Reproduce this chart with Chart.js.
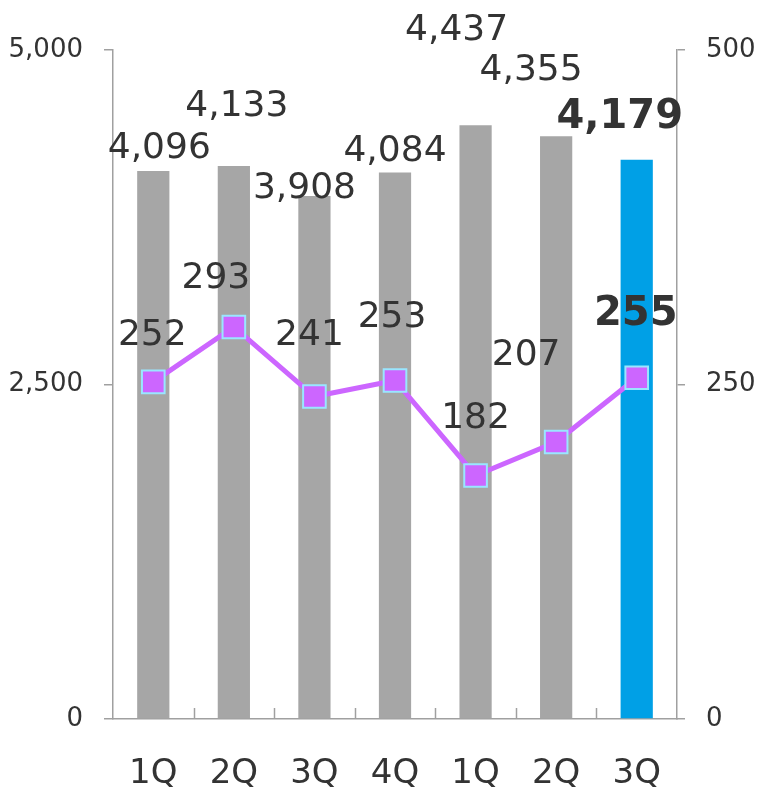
<!DOCTYPE html>
<html>
<head>
<meta charset="utf-8">
<script src="https://cdn.jsdelivr.net/npm/chart.js@4"></script>
<style>
  body { margin: 0; background: #fff; }
  #wrap { width: 758px; height: 792px; }
</style>
</head>
<body>
<div id="wrap"><canvas id="quarterChart" width="758" height="792"></canvas></div>
<script>
// data
const quarters = ['1Q', '2Q', '3Q', '4Q', '1Q', '2Q', '3Q'];
const barValues = [4096, 4133, 3908, 4084, 4437, 4355, 4179];
const lineValues = [252, 293, 241, 253, 182, 207, 255];
const leftTicks = [0, 2500, 5000];
const rightTicks = [0, 250, 500];

// label offsets (dx, dy above the mark), last one bold
const barLabelDx = [6, 3, -10, 0, -19, -25, -17];
const barLabelDy = [22, 59, 7, 21, 95, 66, 42];
const lineLabelDx = [-1, -18, -5, -3, 0, -30, -1];
const lineLabelDy = [46, 48, 61, 63, 57, 86, 63];

const textColor = '#333333';
const axisColor = '#a0a0a0';
const fontFamily = '"DejaVu Sans", Verdana, sans-serif';

const barColors = barValues.map((v, i) => i === barValues.length - 1 ? '#00a0e6' : '#a6a6a6');

function fmt(n) {
    return n.toLocaleString('en-US');
}

// value labels on bars and points
const valueLabels = {
    id: 'valueLabels',
    afterDraw(chart) {
        const ctx = chart.ctx;
        ctx.save();
        ctx.textAlign = 'center';
        ctx.textBaseline = 'middle';
        ctx.fillStyle = textColor;
        const last = barValues.length - 1;

        chart.getDatasetMeta(1).data.forEach((bar, i) => {
            ctx.font = (i === last ? 'bold 40px ' : '36px ') + fontFamily;
            ctx.fillText(fmt(barValues[i]), bar.x + barLabelDx[i], bar.y - barLabelDy[i]);
        });
        chart.getDatasetMeta(0).data.forEach((pt, i) => {
            ctx.font = (i === last ? 'bold 40px ' : '36px ') + fontFamily;
            ctx.fillText(fmt(lineValues[i]), pt.x + lineLabelDx[i], pt.y - lineLabelDy[i]);
        });
        ctx.restore();
    }
};

// small inward ticks between categories on the x axis
const innerTicks = {
    id: 'innerTicks',
    afterDatasetsDraw(chart) {
        const x = chart.scales.x;
        const ctx = chart.ctx;
        const n = quarters.length;
        const step = x.width / n;
        ctx.save();
        ctx.strokeStyle = axisColor;
        ctx.lineWidth = 1.5;
        for (let i = 1; i < n; i++) {
            const px = Math.round(x.left + step * i) + 0.5;
            ctx.beginPath();
            ctx.moveTo(px, x.top);
            ctx.lineTo(px, x.top - 11);
            ctx.stroke();
        }
        ctx.restore();
    }
};

const ctx = document.getElementById('quarterChart').getContext('2d');
const quarterChart = new Chart(ctx, {
    data: {
        labels: quarters,
        datasets: [
            {
                type: 'line',
                data: lineValues,
                yAxisID: 'y2',
                borderColor: '#cc66ff',
                borderWidth: 5,
                pointStyle: 'rect',
                pointRadius: 16,
                pointHoverRadius: 16,
                pointBackgroundColor: '#cc66ff',
                pointBorderColor: '#99e6ff',
                pointBorderWidth: 2,
                tension: 0,
                order: 0
            },
            {
                type: 'bar',
                data: barValues,
                yAxisID: 'y',
                backgroundColor: barColors,
                barPercentage: 0.4,
                categoryPercentage: 1,
                order: 1
            }
        ]
    },
    options: {
        responsive: false,
        animation: false,
        layout: { padding: { top: 50, right: 0, bottom: 0, left: 0 } },
        plugins: { legend: { display: false }, tooltip: { enabled: false } },
        scales: {
            x: {
                grid: { display: false, drawTicks: false },
                border: { display: true, color: axisColor, width: 1.5 },
                ticks: { color: textColor, font: { family: fontFamily, size: 34 }, padding: 35 },
                afterFit(scale) { scale.height = 73; }
            },
            y: {
                position: 'left',
                min: 0,
                max: 5000,
                afterBuildTicks(scale) { scale.ticks = leftTicks.map(v => ({ value: v })); },
                grid: { drawOnChartArea: false, color: axisColor, lineWidth: 1.5, tickLength: 9 },
                border: { color: axisColor, width: 1.5 },
                ticks: {
                    color: textColor,
                    font: { family: fontFamily, size: 26 },
                    padding: 21,
                    callback: v => fmt(v)
                },
                afterFit(scale) { scale.width = 113; }
            },
            y2: {
                position: 'right',
                min: 0,
                max: 500,
                afterBuildTicks(scale) { scale.ticks = rightTicks.map(v => ({ value: v })); },
                grid: { drawOnChartArea: false, color: axisColor, lineWidth: 1.5, tickLength: 8 },
                border: { color: axisColor, width: 1.5 },
                ticks: {
                    color: textColor,
                    font: { family: fontFamily, size: 26 },
                    padding: 21,
                    callback: v => fmt(v)
                },
                afterFit(scale) { scale.width = 81; }
            }
        }
    },
    plugins: [innerTicks, valueLabels]
});
</script>
</body>
</html>
